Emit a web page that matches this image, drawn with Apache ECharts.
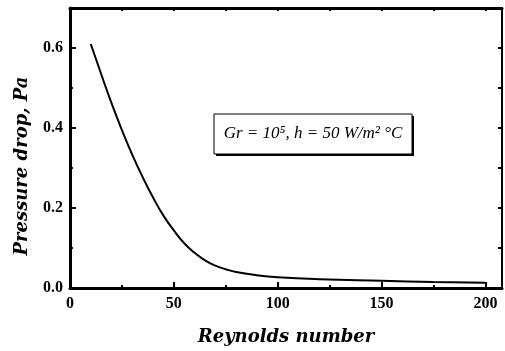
<!DOCTYPE html>
<html>
<head>
<meta charset="utf-8">
<script src="https://cdn.jsdelivr.net/npm/echarts@6/dist/echarts.min.js"></script>
<style>
  html, body { margin: 0; padding: 0; background: #fff; }
  #main { width: 505px; height: 351px; }
</style>
</head>
<body>
<div id="main"></div>
<script>
// Reynolds number vs pressure drop
var reynolds = [10, 15, 20, 25, 30, 35, 40, 45, 50, 55, 60, 65, 70, 75, 80, 90, 100, 120, 150, 175, 200];
var pressure = [0.61, 0.535, 0.462, 0.395, 0.333, 0.277, 0.226, 0.181, 0.144, 0.112, 0.088, 0.069, 0.056, 0.047, 0.040, 0.032, 0.027, 0.022, 0.018, 0.015, 0.013];
var xTicks = [0, 50, 100, 150, 200];
var yTicks = [0.0, 0.2, 0.4, 0.6];
var boxText = 'Gr = 10\u2075, h = 50 W/m\u00b2 \u00b0C';

var myChart = echarts.init(document.getElementById('main'));
var serif = '"Liberation Serif", "DejaVu Serif", serif';
var nameFont = '"DejaVu Serif", serif';

var points = reynolds.map(function (r, i) { return [r, pressure[i]]; });

function lbl(ticks, dec) {
    return function (v) {
        for (var i = 0; i < ticks.length; i++) {
            if (Math.abs(ticks[i] - v) < 1e-6) return dec ? v.toFixed(dec) : String(v);
        }
        return '';
    };
}

var option = {
    animation: false,
    grid: { left: 70, top: 8, right: 2, bottom: 62 },
    xAxis: [
        {
            type: 'value', min: 0, max: 208, interval: 50, position: 'bottom',
            name: 'Reynolds number', nameLocation: 'middle', nameGap: 40,
            nameTextStyle: { fontFamily: nameFont, fontWeight: 'bold', fontStyle: 'italic', fontSize: 18, color: '#000' },
            axisLine: { onZero: false, lineStyle: { color: '#000', width: 3 } },
            axisTick: { inside: true, length: 6, lineStyle: { color: '#000', width: 2 } },
            axisLabel: { formatter: lbl(xTicks, 0), color: '#000', fontFamily: serif, fontWeight: 'bold', fontSize: 16, margin: 8 },
            splitLine: { show: false }
        },
        {
            type: 'value', min: 0, max: 208, interval: 25, position: 'bottom',
            axisLine: { show: false, onZero: false },
            axisTick: { inside: true, length: 3, lineStyle: { color: '#000', width: 2 } },
            axisLabel: { show: false }, splitLine: { show: false }
        },
        {
            type: 'value', min: 0, max: 208, interval: 25, position: 'top',
            axisLine: { onZero: false, lineStyle: { color: '#000', width: 3 } },
            axisTick: { inside: true, length: 3, lineStyle: { color: '#000', width: 2 } },
            axisLabel: { show: false }, splitLine: { show: false }
        }
    ],
    yAxis: [
        {
            type: 'value', min: 0, max: 0.7, interval: 0.2, position: 'left',
            axisLine: { onZero: false, lineStyle: { color: '#000', width: 3 } },
            axisTick: { inside: true, length: 6, lineStyle: { color: '#000', width: 2 } },
            axisLabel: { formatter: lbl(yTicks, 1), color: '#000', fontFamily: serif, fontWeight: 'bold', fontSize: 16, margin: 7 },
            splitLine: { show: false }
        },
        {
            type: 'value', min: 0, max: 0.7, interval: 0.1, position: 'left',
            axisLine: { show: false, onZero: false },
            axisTick: { inside: true, length: 3, lineStyle: { color: '#000', width: 2 } },
            axisLabel: { show: false }, splitLine: { show: false }
        },
        {
            type: 'value', min: 0, max: 0.7, interval: 0.1, position: 'right',
            axisLine: { onZero: false, lineStyle: { color: '#000', width: 2 } },
            axisTick: { inside: true, length: 4, lineStyle: { color: '#000', width: 2 } },
            axisLabel: { show: false }, splitLine: { show: false }
        }
    ],
    series: [{
        type: 'line',
        data: points,
        smooth: true,
        showSymbol: false,
        lineStyle: { color: '#000', width: 2 }
    }],
    graphic: [
        {
            type: 'text', x: 22, y: 166, rotation: Math.PI / 2,
            style: { text: 'Pressure drop, Pa', fill: '#000', font: 'italic bold 18px "DejaVu Serif", serif', align: 'center', verticalAlign: 'middle' },
            silent: true
        },
        { type: 'rect', shape: { x: 216, y: 116, width: 198, height: 40 }, style: { fill: '#000' }, silent: true },
        { type: 'rect', shape: { x: 214, y: 114, width: 198, height: 40 }, style: { fill: '#fff', stroke: '#000', lineWidth: 1 }, silent: true },
        {
            type: 'text', x: 313, y: 134,
            style: { text: boxText, fill: '#000', font: 'italic 17px "Liberation Serif", serif', align: 'center', verticalAlign: 'middle' },
            silent: true
        }
    ]
};

myChart.setOption(option);
</script>
</body>
</html>
